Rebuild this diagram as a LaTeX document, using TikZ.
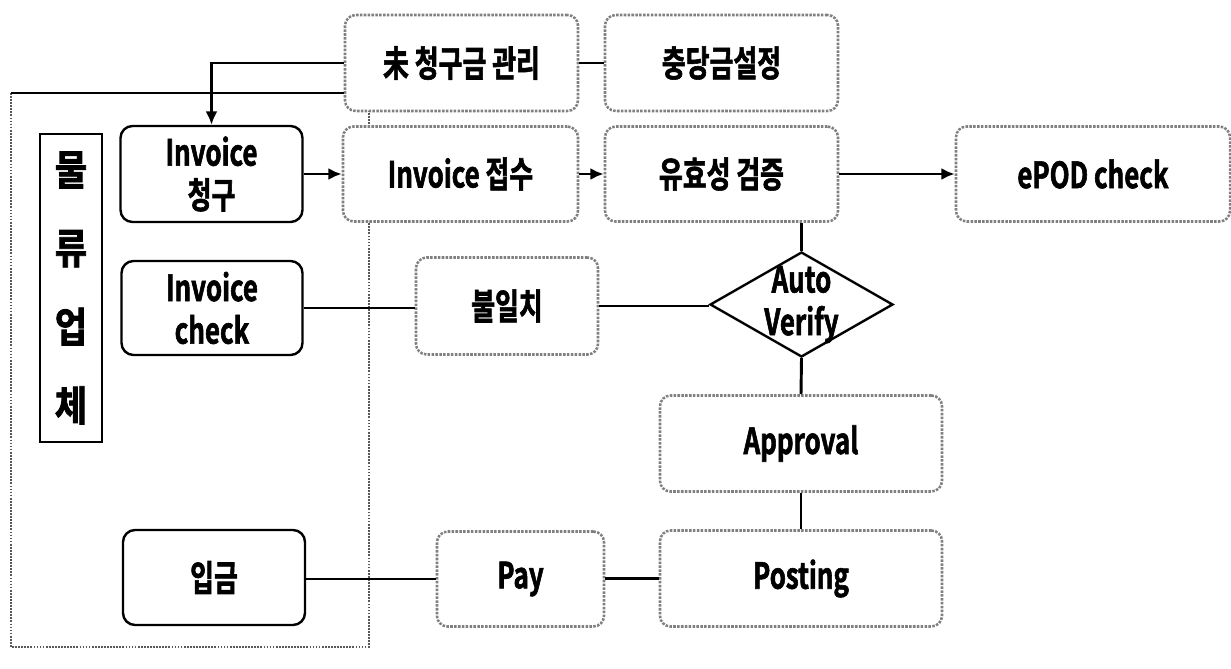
\documentclass[tikz,border=0pt]{standalone}
\usepackage{fontspec}
\usetikzlibrary{arrows.meta,shapes.geometric}
\newfontfamily\krfont{Noto Sans CJK KR Bold}[FakeStretch=0.72, FakeBold=1.6]
\newfontfamily\krwide{Noto Sans CJK KR Bold}[FakeStretch=0.85, FakeBold=2]

\tikzset{
  sz/.style 2 args={minimum width=#1*0.75pt, minimum height=#2*0.75pt},
  lbl/.style={font=\krfont\fontsize{27}{32}\selectfont, align=center, inner sep=0pt},
  dotbox/.style={lbl, draw=black!50, densely dotted, line width=1.9pt, rounded corners=8pt, fill=white},
  solidbox/.style={lbl, draw=black, line width=1.8pt, rounded corners=9pt, fill=white},
  outerframe/.style={draw=black!65, densely dotted, line width=1.3pt},
  ln/.style={draw=black, line width=2.2pt},
  arr/.style={ln, -{Latex[length=10pt,width=9pt]}},
  decision/.style={diamond, draw=black, line width=1.8pt, fill=white, inner sep=0pt}
}

\begin{document}
\begin{tikzpicture}[x=0.75pt, y=-0.75pt]
\useasboundingbox (0,0) rectangle (1231,668);

% carrier group frame
\coordinate (otl) at (11,93);
\coordinate (obr) at (369,647);
\draw[outerframe] (otl) rectangle (obr);

% top row
\node[dotbox, sz={233}{96}] (mi)     at (461.5,63)  {未 청구금 관리};
\node[dotbox, sz={233}{96}] (chung)  at (721.5,63)  {충당금설정};
\draw[ln] (otl) -- (otl -| mi.west);

% carrier side
\node[draw=black, line width=1.8pt, sz={62}{308}, inner sep=0pt,
      font=\krwide\fontsize{31}{59}\selectfont, align=center] (carrier) at (71,288) {물\\류\\업\\체};
\node[solidbox, sz={182}{96}] (inv)      at (211.5,174) {Invoice\\청구};
\node[solidbox, sz={181}{94}] (invcheck) at (212,308)   {Invoice\\check};
\node[solidbox, sz={182}{95}] (ipgeum)   at (214,577.5) {입금};

% receipt and validation row
\node[dotbox, sz={235}{95}] (jeopsu) at (460.5,174) {Invoice 접수};
\node[dotbox, sz={233}{95}] (yuhyo)  at (721.5,174) {유효성 검증};
\node[dotbox, sz={274}{95}] (epod)   at (1093,174)  {ePOD check};

% mismatch and auto verification
\node[dotbox, sz={182}{97}] (bul) at (507,306) {불일치};
\node[decision, sz={183}{105},
      label={[lbl]center:Auto\\Verify}] (dia) at (801.5,304.5) {};

% approval, posting and payment
\node[dotbox, sz={282}{96}] (appr) at (801,443.5) {Approval};
\node[dotbox, sz={282}{96}] (post) at (801,578.5) {Posting};
\node[dotbox, sz={167}{95}] (pay)  at (520.5,579) {Pay};

% connectors
\draw[arr] (mi.west) -| (inv.north);
\draw[ln]  (mi.east) -- (chung.west);
\draw[arr] (inv.east) -- (jeopsu.west);
\draw[arr] (jeopsu.east) -- (yuhyo.west);
\draw[arr] (yuhyo.east) -- (epod.west);
\draw[ln]  (dia.north) -- (dia.north |- yuhyo.south);
\draw[ln]  (invcheck.east) -- (invcheck.east -| bul.west);
\draw[ln]  (bul.east) -- (bul.east -| dia.west);
\draw[ln]  (dia.south) -- (appr.north);
\draw[ln]  (appr.south) -- (post.north);
\draw[ln]  (post.west) -- (post.west -| pay.east);
\draw[ln]  (pay.west) -- (pay.west -| ipgeum.east);
\end{tikzpicture}
\end{document}
